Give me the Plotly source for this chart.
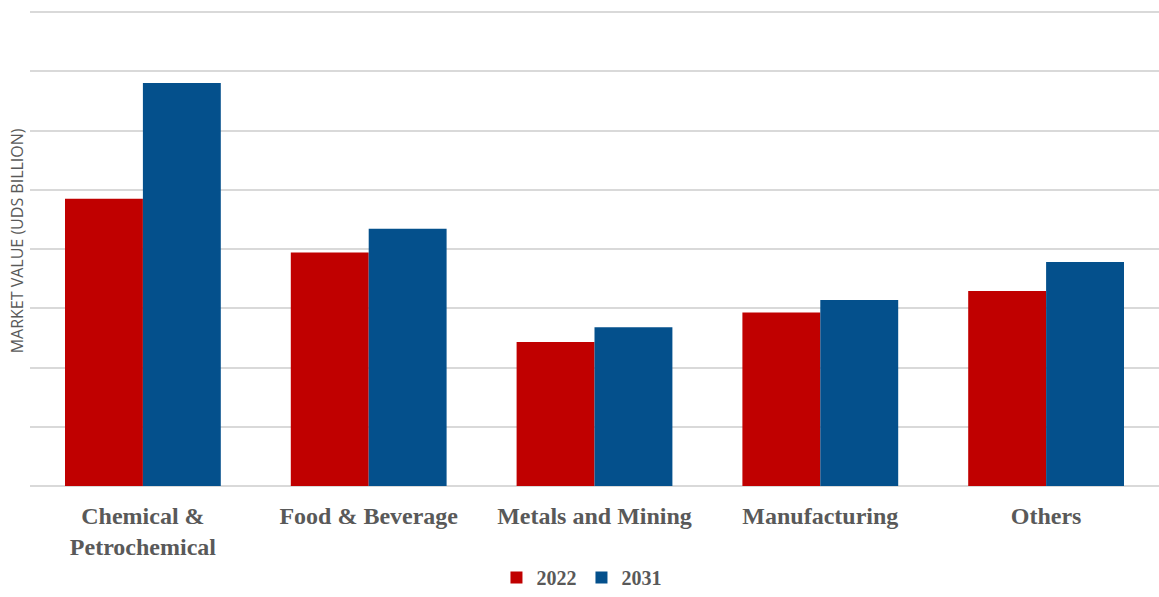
import plotly.graph_objects as go

# Market value by end-use industry (USD billion)
categories = ["Chemical &<br>Petrochemical", "Food & Beverage", "Metals and Mining",
              "Manufacturing", "Others"]
values_2022 = [4.85, 3.94, 2.43, 2.93, 3.29]
values_2031 = [6.80, 4.34, 2.68, 3.14, 3.78]

RED = "#C00000"
BLUE = "#04508C"
GRID = "#D9D9D9"
TEXT = "#595959"

fig = go.Figure()
fig.add_trace(go.Bar(name="2022", x=categories, y=values_2022,
                     marker=dict(color=RED, line=dict(width=0))))
fig.add_trace(go.Bar(name="2031", x=categories, y=values_2031,
                     marker=dict(color=BLUE, line=dict(width=0))))

fig.update_layout(
    width=1159, height=597,
    margin=dict(l=30, r=0, t=10, b=111, autoexpand=False),
    plot_bgcolor="white", paper_bgcolor="white",
    barmode="group", bargap=0.31, bargroupgap=0,
    showlegend=True,
    legend=dict(orientation="h", xref="container", yref="container",
                x=0.5017, xanchor="center", y=-0.008, yanchor="bottom",
                font=dict(family="Liberation Serif", size=20, color=TEXT, weight="bold"),
                itemwidth=30, traceorder="normal"),
    xaxis=dict(showgrid=False, showline=False, ticks="outside", ticklen=8,
               tickcolor="rgba(0,0,0,0)",
               tickfont=dict(family="Liberation Serif", size=24, color=TEXT, weight="bold")),
    yaxis=dict(range=[0, 8.034], dtick=1, showticklabels=False, showgrid=True,
               gridcolor=GRID, gridwidth=1.5, zeroline=True, zerolinecolor=GRID,
               zerolinewidth=1.5, showline=False),
    annotations=[dict(text="MARKET VALUE (UDS BILLION)", textangle=-90,
                      xref="paper", yref="paper", x=-0.0115, y=0.514,
                      xanchor="center", yanchor="middle", showarrow=False,
                      font=dict(family="Open Sans", size=16, color=TEXT))],
)

fig.write_html("out.html")
